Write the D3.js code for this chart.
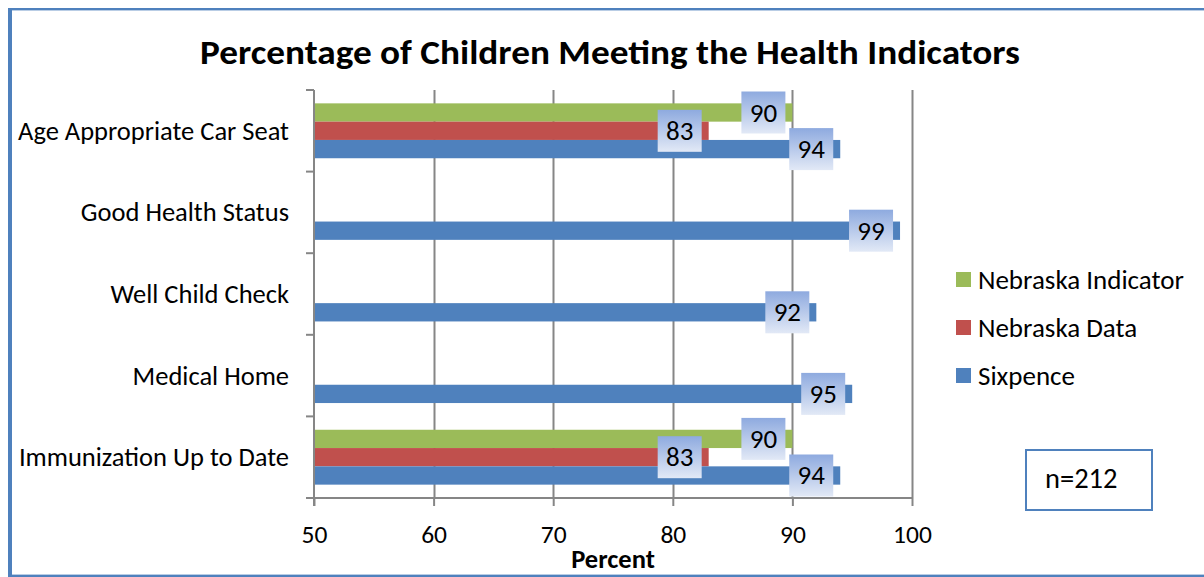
<!DOCTYPE html>
<html>
<head>
<meta charset="utf-8">
<script src="https://cdn.jsdelivr.net/npm/d3@7"></script>
<style>
  html, body { margin: 0; padding: 0; background: #fff; }
  svg { display: block; }
  text { font-family: Carlito, Calibri, Lato, "Liberation Sans", sans-serif; fill: #000; }
</style>
</head>
<body>
<svg id="chart" width="1204" height="577"></svg>
<script>
const categories = ["Age Appropriate Car Seat", "Good Health Status", "Well Child Check", "Medical Home", "Immunization Up to Date"];
const seriesNames = ["Nebraska Indicator", "Nebraska Data", "Sixpence"];
const seriesColors = ["#9bbb59", "#c0504d", "#4f81bd"];
const nebraskaIndicator = [90, null, null, null, 90];
const nebraskaData = [83, null, null, null, 83];
const sixpence = [94, 99, 92, 95, 94];
const xTicks = [50, 60, 70, 80, 90, 100];
const titleText = "Percentage of Children Meeting the Health Indicators";
const xAxisTitle = "Percent";
const noteText = "n=212";

const seriesValues = [nebraskaIndicator, nebraskaData, sixpence];

const svg = d3.select("#chart");

const defs = svg.append("defs");
const grad = defs.append("linearGradient").attr("id", "lblGrad")
  .attr("x1", 0).attr("y1", 0).attr("x2", 0).attr("y2", 1);
grad.append("stop").attr("offset", "0%").attr("stop-color", "#8eaadf");
grad.append("stop").attr("offset", "100%").attr("stop-color", "#e2e9f6");

// frame
svg.append("rect").attr("x", 8).attr("y", 8).attr("width", 4).attr("height", 569).attr("fill", "#4f81bd");
svg.append("rect").attr("x", 8).attr("y", 8).attr("width", 1196).attr("height", 2).attr("fill", "#4f81bd");
svg.append("rect").attr("x", 12).attr("y", 10).attr("width", 1192).attr("height", 1).attr("fill", "#b9cde5");
svg.append("rect").attr("x", 12).attr("y", 575).attr("width", 1192).attr("height", 2).attr("fill", "#4f81bd");
svg.append("rect").attr("x", 12).attr("y", 574).attr("width", 1192).attr("height", 1).attr("fill", "#b9cde5");

// title
svg.append("text").attr("x", 200).attr("y", 64)
  .attr("font-size", 34).attr("font-weight", "bold")
  .attr("textLength", 820).attr("lengthAdjust", "spacingAndGlyphs").text(titleText);

const x = d3.scaleLinear().domain([50, 100]).range([314, 912]);
const y = d3.scaleBand().domain(categories).range([90, 498]).padding(0);
const yInner = d3.scaleBand().domain(seriesNames).range([0, y.bandwidth()]).paddingInner(0).paddingOuter(0.73);

// gridlines
svg.append("g").selectAll("line").data(xTicks.slice(1)).join("line")
  .attr("x1", d => Math.round(x(d)) + 0.5).attr("x2", d => Math.round(x(d)) + 0.5)
  .attr("y1", 90).attr("y2", 498)
  .attr("stroke", "#868686").attr("stroke-width", 2);

// bars
const barData = [];
categories.forEach((c, i) => {
  seriesNames.forEach((s, j) => {
    const v = seriesValues[j][i];
    if (v != null) barData.push({ c, s, v, color: seriesColors[j] });
  });
});

svg.append("g").selectAll("rect").data(barData).join("rect")
  .attr("x", x(50))
  .attr("y", d => y(d.c) + yInner(d.s))
  .attr("width", d => x(d.v) - x(50))
  .attr("height", yInner.bandwidth())
  .attr("fill", d => d.color);

// axes
const xAxis = svg.append("g").attr("transform", "translate(0,498)")
  .call(d3.axisBottom(x).tickValues(xTicks).tickSize(8).tickFormat(d3.format("d")));
xAxis.select(".domain").attr("stroke", "#868686").attr("stroke-width", 2).attr("d", "M306,0H912");
xAxis.selectAll(".tick line").attr("stroke", "#868686").attr("stroke-width", 2);
xAxis.selectAll(".tick text").attr("font-size", 25.5).attr("fill", "#000")
  .attr("font-family", "Carlito, Calibri, Lato, sans-serif")
  .attr("y", 45).attr("dy", 0);

const yTicks = d3.range(categories.length + 1).map(i => 90 + i * y.step());
svg.append("g").selectAll("line").data(yTicks).join("line")
  .attr("x1", 306).attr("x2", 314).attr("y1", d => d).attr("y2", d => d)
  .attr("stroke", "#868686").attr("stroke-width", 2);
svg.append("line").attr("x1", 314).attr("x2", 314).attr("y1", 90).attr("y2", 506)
  .attr("stroke", "#868686").attr("stroke-width", 2);

svg.append("g").selectAll("text").data(categories).join("text")
  .attr("x", 289).attr("y", d => y(d) + y.bandwidth() / 2 + 9)
  .attr("text-anchor", "end").attr("font-size", 26.5)
  .text(d => d);

// x axis title
svg.append("text").attr("x", 613).attr("y", 568).attr("text-anchor", "middle")
  .attr("font-size", 26.5).attr("font-weight", "bold").text(xAxisTitle);

// data labels
const lbl = svg.append("g").selectAll("g").data(barData).join("g")
  .attr("transform", d => `translate(${x(d.v) - 7 - 44},${y(d.c) + yInner(d.s) + yInner.bandwidth() / 2 - 21})`);
lbl.append("rect").attr("width", 44).attr("height", 42).attr("fill", "url(#lblGrad)");
lbl.append("text").attr("x", 22).attr("y", 30).attr("text-anchor", "middle")
  .attr("font-size", 27).text(d => d.v);

// legend
const legendOrder = [0, 1, 2];
const lg = svg.append("g").selectAll("g").data(legendOrder).join("g")
  .attr("transform", (d, i) => `translate(956,${272 + i * 48})`);
lg.append("rect").attr("width", 15).attr("height", 15).attr("fill", d => seriesColors[d]);
lg.append("text").attr("x", 22).attr("y", 17).attr("font-size", 27)
  .text(d => seriesNames[d]);

// n box
svg.append("rect").attr("x", 1026).attr("y", 450).attr("width", 126).attr("height", 60)
  .attr("fill", "#fff").attr("stroke", "#4f81bd").attr("stroke-width", 2);
svg.append("text").attr("x", 1045).attr("y", 488).attr("font-size", 28.5).text(noteText);
</script>
</body>
</html>
